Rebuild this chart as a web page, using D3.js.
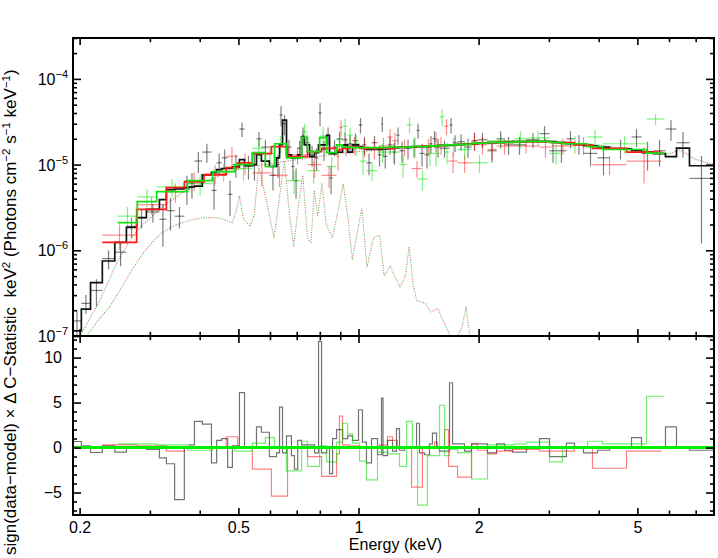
<!DOCTYPE html>
<html>
<head>
<meta charset="utf-8">
<script src="https://cdn.jsdelivr.net/npm/d3@7"></script>
<style>
body { margin: 0; background: #fff; }
text { font-family: "Liberation Sans", Arial, Helvetica, sans-serif; fill: #000; }
</style>
</head>
<body>
<svg width="718" height="558"></svg>
<script>
// ---- black data set (bin edges in keV, model, data, 1-sigma error, residual) ----
var blackEdges = [0.192, 0.202, 0.213, 0.228, 0.245, 0.262, 0.278, 0.294, 0.317, 0.330, 0.346, 0.366, 0.377, 0.388,
  0.406, 0.428, 0.441, 0.454, 0.470, 0.483, 0.503, 0.518, 0.542, 0.555, 0.571, 0.598, 0.623, 0.634, 0.645, 0.660,
  0.679, 0.691, 0.704, 0.720, 0.732, 0.754, 0.776, 0.794, 0.808, 0.832, 0.846, 0.861, 0.881, 0.912, 0.939, 0.966,
  1.000, 1.023, 1.047, 1.078, 1.116, 1.142, 1.152, 1.182, 1.217, 1.245, 1.267, 1.304, 1.358, 1.398, 1.422, 1.464,
  1.506, 1.532, 1.569, 1.596, 1.691, 1.721, 1.771, 1.844, 1.920, 1.987, 2.105, 2.218, 2.323, 2.432, 2.637, 2.842,
  3.011, 3.134, 3.320, 3.478, 3.664, 3.972, 4.257, 4.834, 5.120, 5.490, 5.880, 6.266, 6.753, 7.759];
var blackModel = [1.15e-7, 2.06e-7, 4.2e-7, 7.5e-7, 1.24e-6, 1.85e-6, 2.4e-6, 3.0e-6, 3.9e-6, 5.1e-6, 5.2e-6, 5.4e-6,
  5.5e-6, 5.6e-6, 7.6e-6, 8.1e-6, 8.75e-6, 9.0e-6, 9.0e-6, 9.4e-6, 1.14e-5, 9.7e-6, 1.0e-5, 1.31e-5, 1.1e-5, 9.5e-6,
  1.2e-5, 1.71e-5, 3.3e-5, 1.3e-5, 1.2e-5, 1.2e-5, 1.3e-5, 2.1e-5, 1.7e-5, 1.24e-5, 1.38e-5, 1.7e-5, 1.7e-5, 2.2e-5,
  1.34e-5, 1.34e-5, 1.4e-5, 1.7e-5, 1.4e-5, 1.7e-5, 1.62e-5, 1.55e-5, 1.5e-5, 1.52e-5, 1.5e-5, 1.55e-5, 1.52e-5,
  1.55e-5, 1.58e-5, 1.58e-5, 1.6e-5, 1.6e-5, 1.6e-5, 1.62e-5, 1.62e-5, 1.62e-5, 1.65e-5, 1.65e-5, 1.66e-5, 1.68e-5,
  1.7e-5, 1.7e-5, 1.72e-5, 1.74e-5, 1.76e-5, 1.78e-5, 1.8e-5, 1.82e-5, 1.83e-5, 1.85e-5, 1.87e-5, 1.87e-5, 1.85e-5,
  1.8e-5, 1.76e-5, 1.72e-5, 1.66e-5, 1.6e-5, 1.52e-5, 1.45e-5, 1.4e-5, 1.34e-5, 1.24e-5, 1.56e-5, 9.7e-6];
var blackFlux = [1.5e-7, 2.4e-7, 3.4e-7, 8.0e-7, 9.5e-7, 1.9e-6, 2.4e-6, 2.8e-6, 2.3e-6, 2.9e-6, 2.5e-6, 5.4e-6,
  6.0e-6, 1.1e-5, 1.4e-5, 5.0e-6, 1.05e-5, 1.2e-5, 4.5e-6, 1.0e-5, 2.6e-5, 9.7e-6, 1.0e-5, 2.0e-5, 1.6e-5, 7.5e-6,
  1.0e-5, 3.8e-5, 3.0e-5, 1.6e-5, 9.5e-6, 6.5e-6, 1.55e-5, 2.2e-5, 1.8e-5, 1.3e-5, 1.2e-5, 4.0e-5, 1.5e-5, 2.2e-5,
  7.0e-6, 1.6e-5, 2.0e-5, 1.95e-5, 1.75e-5, 1.9e-5, 2.9e-5, 1.7e-5, 1.05e-5, 1.8e-5, 1.3e-5, 3.0e-5, 1.25e-5,
  1.7e-5, 1.4e-5, 2.2e-5, 1.45e-5, 1.55e-5, 1.6e-5, 2.5e-5, 1.35e-5, 1.3e-5, 1.75e-5, 2.0e-5, 1.6e-5, 1.55e-5,
  2.9e-5, 1.8e-5, 1.85e-5, 1.6e-5, 1.9e-5, 1.95e-5, 1.45e-5, 2.0e-5, 1.7e-5, 1.7e-5, 1.95e-5, 2.3e-5, 1.45e-5,
  1.45e-5, 2.0e-5, 1.75e-5, 1.35e-5, 1.2e-5, 1.55e-5, 2.1e-5, 1.35e-5, 1.45e-5, 2.6e-5, 1.8e-5, 6.9e-6];
var blackErr = [5e-8, 6e-8, 1.2e-7, 2e-7, 3e-7, 5e-7, 6e-7, 7e-7, 1.2e-6, 1.2e-6, 7e-7, 2e-6,
  2e-6, 3e-6, 3.5e-6, 2e-6, 3e-6, 3e-6, 2e-6, 3e-6, 5e-6, 3e-6, 3.5e-6, 4e-6, 3.5e-6, 2.5e-6,
  3e-6, 1e-5, 8e-6, 3.5e-6, 3e-6, 2.5e-6, 3.5e-6, 5e-6, 4e-6, 3.5e-6, 3.5e-6, 1.2e-5, 4e-6, 5e-6,
  2.5e-6, 3.5e-6, 4e-6, 4e-6, 4e-6, 4e-6, 6e-6, 4e-6, 3e-6, 3.5e-6, 3.5e-6, 6e-6, 3.5e-6,
  4e-6, 4e-6, 5e-6, 4e-6, 4e-6, 4e-6, 5e-6, 4e-6, 4e-6, 4e-6, 4.5e-6, 4e-6, 3.5e-6,
  6e-6, 4e-6, 4e-6, 4e-6, 4.5e-6, 4e-6, 4e-6, 4.5e-6, 4e-6, 4e-6, 4e-6, 5e-6, 4e-6,
  4e-6, 4.5e-6, 4.5e-6, 4e-6, 4.5e-6, 4e-6, 5e-6, 5e-6, 5e-6, 7e-6, 6e-6, 5.7e-6];
var blackRes = [0.67, 0.2, -0.55, 0.2, -0.5, 0.1, 0, -0.2, -1.15, -1.8, -5.8, 0,
  0.3, 2.9, 2.6, -1.7, 0.8, 1.0, -2.2, 0.2, 6.1, 0, 0, 2.3, 1.7, -1.0,
  -0.6, 4.5, -0.6, 1.3, -0.9, -2.4, 0.8, 0.3, 0.3, 0.3, -0.6, 11.8, -0.6, 0.1,
  -2.9, 1.0, 2.0, 1.0, 1.3, 0.8, 4.2, 0.6, -1.7, 1.0, -0.8, 5.5, -0.9,
  0.8, -0.4, 2.1, -0.3, 0.1, 0, 2.7, -0.6, -0.8, 0.4, 1.6, -0.1, -0.4,
  7.2, 0.4, 0.4, -0.4, 0.4, 0.4, -0.6, 0.4, -0.3, -0.5, 0.1, 1.0, -1.0,
  -1.0, 0.5, 0, -0.6, -0.3, 0, 1.1, -0.1, 0.1, 2.3, 0, -0.3];

// ---- red data set ----
var redEdges = [0.228, 0.278, 0.330, 0.366, 0.410, 0.466, 0.498, 0.542, 0.605, 0.664, 0.745, 0.808, 0.881, 0.896,
  0.912, 0.949, 1.006, 1.065, 1.129, 1.182, 1.217, 1.252, 1.358, 1.446, 1.551, 1.577, 1.643, 1.681, 1.771, 1.920,
  1.987, 2.105, 2.218, 2.432, 2.842, 3.045, 3.478, 3.859, 4.696, 5.746];
var redModel = [1.24e-6, 3.0e-6, 5.4e-6, 6.3e-6, 7.6e-6, 9.2e-6, 1.05e-5, 1.34e-5, 1.62e-5, 1.24e-5, 1.42e-5,
  1.55e-5, 1.45e-5, 1.5e-5, 1.55e-5, 1.6e-5, 1.55e-5, 1.55e-5, 1.55e-5, 1.55e-5, 1.58e-5, 1.6e-5, 1.62e-5, 1.65e-5,
  1.65e-5, 1.68e-5, 1.7e-5, 1.7e-5, 1.72e-5, 1.75e-5, 1.78e-5, 1.8e-5, 1.82e-5, 1.85e-5, 1.85e-5, 1.8e-5, 1.7e-5,
  1.55e-5, 1.4e-5];
var redFlux = [1.5e-6, 3.4e-6, 4.8e-6, 6.5e-6, 7.8e-6, 1.25e-5, 1.05e-5, 8.0e-6, 7.5e-6, 1.3e-5, 1.0e-5, 7.5e-6,
  1.25e-5, 2.7e-5, 1.65e-5, 1.7e-5, 1.6e-5, 1.55e-5, 1.65e-5, 2.1e-5, 1.9e-5, 1.6e-5, 9.0e-6, 1.65e-5, 1.9e-5,
  1.7e-5, 2.8e-5, 1.1e-5, 1.05e-5, 1.9e-5, 1.7e-5, 1.5e-5, 1.65e-5, 1.65e-5, 1.6e-5, 1.65e-5, 1.7e-5, 1.0e-5, 1.1e-5];
var redErr = [5e-7, 8e-7, 1.2e-6, 1.6e-6, 2e-6, 3.5e-6, 3e-6, 2.5e-6, 2e-6, 3e-6, 3e-6, 2.2e-6, 4e-6, 6e-6, 4e-6,
  4e-6, 4e-6, 4e-6, 4e-6, 5e-6, 4.5e-6, 3.5e-6, 2e-6, 3.5e-6, 5e-6, 4e-6, 6e-6, 3e-6, 2.5e-6, 4.5e-6, 4e-6, 3.5e-6,
  3.5e-6, 3e-6, 4e-6, 3.5e-6, 4e-6, 2.5e-6, 5e-6];
var redRes = [0.3, 0.2, -0.4, 0, 0, 1.2, 0, -2.4, -5.4, 0, -1.0, -3.2, -0.7, 3.5, 0.3, 0.2, 0.1, 0, 0.3, 1.2,
  0.8, 0, -4.4, 0, 0.6, 0, 2.0, -2.1, -3.3, 0.4, -0.3, -0.7, -0.4, -0.2, -0.4, -0.4, 0, -2.3, -0.4];

// ---- green data set ----
var greenEdges = [0.249, 0.279, 0.312, 0.373, 0.431, 0.489, 0.542, 0.584, 0.616, 0.660, 0.720, 0.745, 0.799, 0.832,
  0.881, 0.912, 0.939, 0.966, 1.006, 1.047, 1.116, 1.182, 1.267, 1.320, 1.365, 1.406, 1.489, 1.532, 1.596, 1.643,
  1.691, 1.771, 1.920, 2.105, 2.459, 2.637, 3.011, 3.245, 3.750, 4.089, 5.272, 5.847];
var greenModel = [2.1e-6, 3.7e-6, 4.85e-6, 6.5e-6, 8.3e-6, 1.0e-5, 1.38e-5, 9.5e-6, 1.75e-5, 1.2e-5, 2.06e-5,
  1.42e-5, 2.06e-5, 1.38e-5, 1.7e-5, 1.6e-5, 1.6e-5, 1.58e-5, 1.58e-5, 1.58e-5, 1.58e-5, 1.6e-5, 1.6e-5, 1.6e-5,
  1.62e-5, 1.62e-5, 1.65e-5, 1.65e-5, 1.68e-5, 1.7e-5, 1.7e-5, 1.72e-5, 1.78e-5, 1.82e-5, 1.85e-5, 1.87e-5, 1.82e-5,
  1.75e-5, 1.62e-5, 1.5e-5, 1.36e-5];
var greenFlux = [2.5e-6, 4.2e-6, 5.5e-6, 6.0e-6, 8.3e-6, 9.0e-6, 1.55e-5, 1.35e-5, 1.75e-5, 6.5e-6, 2.4e-5, 8.5e-6,
  2.15e-5, 9.5e-6, 1.95e-5, 2.8e-5, 2.2e-5, 1.75e-5, 1.1e-5, 8.5e-6, 1.4e-5, 1.4e-5, 1.0e-5, 2.9e-5, 1.65e-5, 6.8e-6,
  1.35e-5, 1.35e-5, 3.6e-5, 1.4e-5, 1.65e-5, 1.5e-5, 1.05e-5, 1.9e-5, 2.0e-5, 2.05e-5, 1.35e-5, 1.75e-5, 2.1e-5,
  1.75e-5, 3.4e-5];
var greenErr = [7e-7, 1e-6, 1.3e-6, 1.6e-6, 2e-6, 2.5e-6, 4e-6, 3e-6, 4e-6, 2e-6, 6e-6, 2.5e-6, 6e-6, 2.8e-6, 5e-6,
  6e-6, 5e-6, 5e-6, 3.5e-6, 2e-6, 3.5e-6, 3.5e-6, 3e-6, 6e-6, 4.5e-6, 1.8e-6, 4e-6, 4e-6, 8e-6, 4e-6, 4e-6, 3.5e-6,
  2.5e-6, 3.5e-6, 4.5e-6, 4e-6, 3.5e-6, 4e-6, 4.5e-6, 4e-6, 5e-6];
var greenRes = [0.4, 0.4, 0.3, -0.3, 0, -0.4, 0.5, 1.1, 0, -2.6, 0.7, -2.1, 0.2, -1.6, 0.6, 2.7, 1.5, 0.5, -1.5,
  -3.6, -0.5, -0.7, -2.1, 2.9, 0.1, -6.4, -0.9, -0.9, 4.7, -0.9, -0.2, -0.6, -3.5, 0.3, 0.4, 0.6, -1.6, 0, 0.7,
  0.4, 5.7];

// ---- model components (dotted) ----
var contE = [0.195, 0.202, 0.212, 0.224, 0.236, 0.248, 0.260, 0.271, 0.287, 0.304, 0.330, 0.362, 0.40, 0.441, 0.49,
  0.533, 0.60, 0.645, 0.75, 0.861, 1.0, 1.3, 1.6, 2.0, 2.5, 3.0, 3.5, 4.0, 4.5, 5.0, 5.5, 6.0, 6.4, 7.0, 7.78];
var contF = [6e-8, 1.05e-7, 1.6e-7, 2.5e-7, 4.3e-7, 7.2e-7, 1.05e-6, 1.46e-6, 1.95e-6, 2.5e-6, 3.5e-6, 4.7e-6, 5.9e-6,
  7.2e-6, 8.5e-6, 9.5e-6, 1.02e-5, 1.08e-5, 1.2e-5, 1.31e-5, 1.42e-5, 1.55e-5, 1.64e-5, 1.72e-5, 1.8e-5, 1.84e-5,
  1.78e-5, 1.68e-5, 1.57e-5, 1.48e-5, 1.4e-5, 1.33e-5, 1.48e-5, 1.15e-5, 1.0e-5];
var thermE = [0.208, 0.222, 0.238, 0.255, 0.271, 0.287, 0.304, 0.322, 0.342, 0.362, 0.384, 0.407, 0.431, 0.452,
  0.470, 0.483, 0.495, 0.503, 0.515, 0.535, 0.548, 0.562, 0.575, 0.59, 0.614, 0.633, 0.652, 0.672, 0.688, 0.705,
  0.725, 0.745, 0.76, 0.775, 0.79, 0.81, 0.83, 0.86, 0.89, 0.915, 0.94, 0.965, 0.99, 1.02, 1.05, 1.09, 1.13, 1.16,
  1.2, 1.27, 1.31, 1.34, 1.37, 1.4, 1.47, 1.52, 1.58, 1.62, 1.69, 1.75, 1.82, 1.86, 1.9, 1.95];
var thermF = [1.0e-7, 1.5e-7, 2.2e-7, 3.7e-7, 6.0e-7, 9.0e-7, 1.24e-6, 1.6e-6, 1.9e-6, 2.1e-6, 2.29e-6, 2.4e-6,
  2.41e-6, 2.35e-6, 2.2e-6, 2.1e-6, 3.0e-6, 4.3e-6, 2.3e-6, 1.9e-6, 2.6e-6, 9.5e-6, 6e-6, 3.5e-6, 1.4e-6, 4e-6,
  1.1e-5, 2.5e-6, 1.1e-6, 3e-6, 7.5e-6, 1.4e-6, 1.2e-6, 5e-6, 2.5e-6, 6e-6, 2.0e-6, 1.4e-6, 3e-6, 6e-6, 2.5e-6,
  7.8e-7, 1.5e-6, 3.1e-6, 6.3e-7, 1.4e-6, 1.5e-6, 5e-7, 6.5e-7, 3.7e-7, 5e-7, 1.1e-6, 4e-7, 2.6e-7, 2.4e-7, 1.9e-7,
  2.1e-7, 1.6e-7, 1.05e-7, 9e-8, 1.3e-7, 2.2e-7, 1.0e-7, 6e-8];

var xLabels = [0.2, 0.5, 1, 2, 5];
var fluxDecades = [1e-7, 1e-6, 1e-5, 1e-4];
var resLabels = [-5, 0, 5, 10];

var svg = d3.select("svg");
var L = 73, R = 714, T = 38, M = 336, B = 515;

var x = d3.scaleLog().domain([0.1925, 7.78]).range([L, R]);
var yTop = d3.scaleLog().domain([1e-7, 3e-4]).range([M, T]);
var yRes = d3.scaleLinear().domain([-7.5, 12.4]).range([B, M]);

var defs = svg.append("defs");
defs.append("clipPath").attr("id", "clipTop").append("rect")
  .attr("x", L).attr("y", T).attr("width", R - L).attr("height", M - T);
defs.append("clipPath").attr("id", "clipBot").append("rect")
  .attr("x", L).attr("y", M).attr("width", R - L).attr("height", B - M);

function makeBins(edges, model, flux, err, res) {
  return model.map(function(m, i) {
    return { lo: edges[i], hi: edges[i + 1], m: m, f: flux[i], e: err[i], r: res[i] };
  });
}
var sets = [
  { bins: makeBins(blackEdges, blackModel, blackFlux, blackErr, blackRes), edges: blackEdges,
    data: "rgba(0,0,0,0.5)", model: "#111", res: "rgba(0,0,0,0.55)", dot: "#888", off: 0 },
  { bins: makeBins(redEdges, redModel, redFlux, redErr, redRes), edges: redEdges,
    data: "rgba(255,0,0,0.45)", model: "#ff1a1a", res: "rgba(255,0,0,0.5)", dot: "#ff6a6a", off: 2.4 },
  { bins: makeBins(greenEdges, greenModel, greenFlux, greenErr, greenRes), edges: greenEdges,
    data: "rgba(0,230,0,0.5)", model: "#11e011", res: "rgba(0,220,0,0.55)", dot: "#5ad85a", off: 4.8 }
];

var gTop = svg.append("g").attr("clip-path", "url(#clipTop)");
var gBot = svg.append("g").attr("clip-path", "url(#clipBot)");

// dotted model components
var compLine = d3.line().x(function(d) { return x(d[0]); }).y(function(d) { return yTop(d[1]); });
var contPts = contE.map(function(e, i) { return [e, contF[i]]; });
var thermPts = thermE.map(function(e, i) { return [e, thermF[i]]; });
sets.forEach(function(s) {
  [contPts, thermPts].forEach(function(pts) {
    gTop.append("path").attr("d", compLine(pts))
      .attr("fill", "none").attr("stroke", s.dot).attr("stroke-width", 1.1)
      .attr("stroke-dasharray", "1.1,6.1").attr("stroke-dashoffset", s.off);
  });
});

// data crosses
sets.forEach(function(s) {
  var g = gTop.append("g").attr("stroke", s.data).attr("stroke-width", 1.2);
  g.selectAll(".h").data(s.bins).enter().append("line")
    .attr("x1", function(b) { return x(b.lo); }).attr("x2", function(b) { return x(b.hi); })
    .attr("y1", function(b) { return yTop(b.f); }).attr("y2", function(b) { return yTop(b.f); });
  g.selectAll(".v").data(s.bins).enter().append("line")
    .attr("x1", function(b) { return x(Math.sqrt(b.lo * b.hi)); })
    .attr("x2", function(b) { return x(Math.sqrt(b.lo * b.hi)); })
    .attr("y1", function(b) { return yTop(b.f + b.e); })
    .attr("y2", function(b) { return yTop(Math.max(b.f - b.e, 1e-9)); });
});

// model steps
var stepTop = d3.line().x(function(d) { return x(d[0]); }).y(function(d) { return yTop(d[1]); }).curve(d3.curveStepAfter);
var stepRes = d3.line().x(function(d) { return x(d[0]); }).y(function(d) { return yRes(d[1]); }).curve(d3.curveStepAfter);
sets.forEach(function(s) {
  var pts = s.edges.map(function(e, i) { return [e, s.bins[Math.min(i, s.bins.length - 1)].m]; });
  gTop.append("path").attr("d", stepTop(pts)).attr("fill", "none")
    .attr("stroke", s.model).attr("stroke-width", 1.7);
});

// residuals
sets.forEach(function(s) {
  var pts = s.edges.map(function(e, i) { return [e, s.bins[Math.min(i, s.bins.length - 1)].r]; });
  gBot.append("path").attr("d", stepRes(pts)).attr("fill", "none")
    .attr("stroke", s.res).attr("stroke-width", 1.2);
});
gBot.append("line").attr("x1", L).attr("x2", R).attr("y1", yRes(0)).attr("y2", yRes(0))
  .attr("stroke", "#00f000").attr("stroke-width", 3);

// axes (ticks point inward on every side)
function strip(g) { g.select(".domain").remove(); g.selectAll("line").attr("stroke", "#000").attr("stroke-width", 1.6); }
var xMinor = x.ticks().filter(function(v) { return xLabels.indexOf(+v.toPrecision(3)) < 0; });
function xTicks(axisFn, y, len) {
  svg.append("g").attr("transform", "translate(0," + y + ")")
    .call(axisFn(x).tickValues(xLabels).tickSize(len).tickFormat("")).call(strip);
  svg.append("g").attr("transform", "translate(0," + y + ")")
    .call(axisFn(x).tickValues(xMinor).tickSize(len * 0.6).tickFormat("")).call(strip);
}
xTicks(d3.axisBottom, T, 7);
xTicks(d3.axisTop, M, 7);
xTicks(d3.axisBottom, M, 7);
var xLab = svg.append("g").attr("transform", "translate(0," + B + ")")
  .call(d3.axisBottom(x).tickValues(xLabels).tickSizeInner(-7).tickSizeOuter(0).tickPadding(7)
    .tickFormat(function(d) { return String(d); }))
  .call(strip);
xLab.selectAll("text").attr("font-size", 16).attr("font-family", "Liberation Sans, Arial, sans-serif").attr("fill", "#000");
svg.append("g").attr("transform", "translate(0," + B + ")")
  .call(d3.axisTop(x).tickValues(xMinor).tickSize(4.5).tickFormat("")).call(strip);

var yMinor = yTop.ticks().filter(function(v) { return fluxDecades.indexOf(v) < 0; });
[[d3.axisRight, L], [d3.axisLeft, R]].forEach(function(p) {
  svg.append("g").attr("transform", "translate(" + p[1] + ",0)")
    .call(p[0](yTop).tickValues(fluxDecades).tickSize(8).tickFormat("")).call(strip);
  svg.append("g").attr("transform", "translate(" + p[1] + ",0)")
    .call(p[0](yTop).tickValues(yMinor).tickSize(4).tickFormat("")).call(strip);
  svg.append("g").attr("transform", "translate(" + p[1] + ",0)")
    .call(p[0](yRes).tickValues(resLabels).tickSize(8).tickFormat("")).call(strip);
  svg.append("g").attr("transform", "translate(" + p[1] + ",0)")
    .call(p[0](yRes).tickValues(d3.range(-7, 13).filter(function(v) { return v % 5 !== 0; }))
      .tickSize(4).tickFormat("")).call(strip);
});

var resLab = svg.append("g").attr("transform", "translate(" + L + ",0)")
  .call(d3.axisLeft(yRes).tickValues(resLabels).tickSize(0).tickPadding(11));
resLab.select(".domain").remove();
resLab.selectAll("text").attr("font-size", 16).attr("font-family", "Liberation Sans, Arial, sans-serif").attr("fill", "#000");

fluxDecades.forEach(function(v) {
  var t = svg.append("text").attr("x", 68).attr("y", yTop(v) + 6)
    .attr("text-anchor", "end").attr("font-size", 16);
  t.append("tspan").text("10");
  t.append("tspan").attr("dy", -7).attr("font-size", 11).text("\u2212" + Math.round(-Math.log10(v)));
});

// frame
svg.append("rect").attr("x", L).attr("y", T).attr("width", R - L).attr("height", B - T)
  .attr("fill", "none").attr("stroke", "#000").attr("stroke-width", 2);
svg.append("line").attr("x1", L).attr("x2", R).attr("y1", M).attr("y2", M)
  .attr("stroke", "#000").attr("stroke-width", 2);

// axis titles
svg.append("text").attr("x", (L + R) / 2 + 2).attr("y", 550).attr("text-anchor", "middle")
  .attr("font-size", 16).text("Energy (keV)");

var yt = svg.append("text").attr("transform", "translate(16,555) rotate(-90)")
  .attr("font-size", 17).style("white-space", "pre");
yt.append("tspan").text("sign(data\u2212model) \u00d7 \u0394 C\u2212Statistic  keV");
yt.append("tspan").attr("dy", -6).attr("font-size", 11.5).text("2");
yt.append("tspan").attr("dy", 6).text(" (Photons cm");
yt.append("tspan").attr("dy", -6).attr("font-size", 11.5).text("\u22122");
yt.append("tspan").attr("dy", 6).text(" s");
yt.append("tspan").attr("dy", -6).attr("font-size", 11.5).text("\u22121");
yt.append("tspan").attr("dy", 6).text(" keV");
yt.append("tspan").attr("dy", -6).attr("font-size", 11.5).text("\u22121");
yt.append("tspan").attr("dy", 6).text(")");
</script>
</body>
</html>
